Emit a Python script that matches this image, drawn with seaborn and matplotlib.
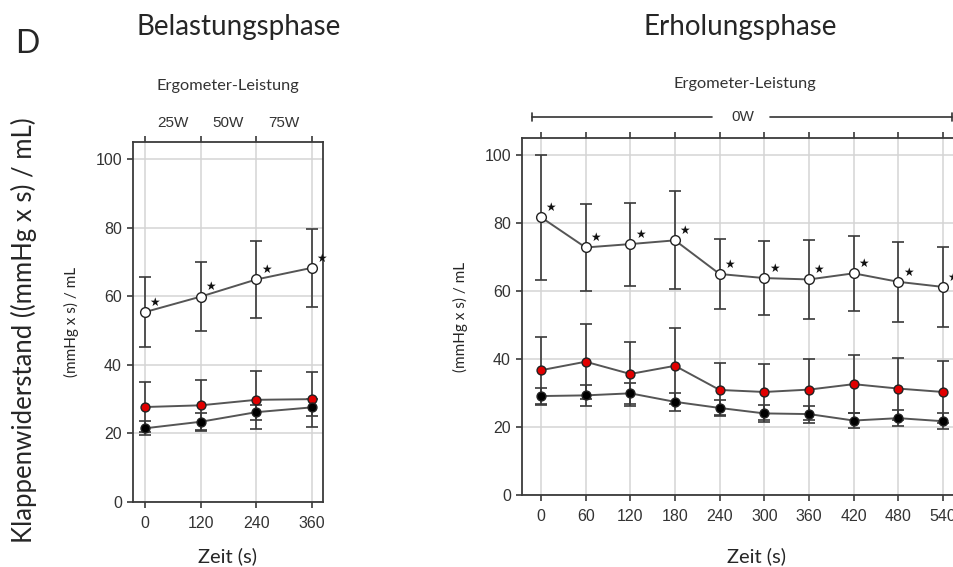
import matplotlib
matplotlib.use("Agg")
import matplotlib.pyplot as plt
import seaborn as sns
import pandas as pd
from matplotlib.transforms import blended_transform_factory

# ---------------- data ----------------
load_time = [0, 120, 240, 360]
load_white = [55.4, 59.9, 64.9, 68.3]
load_white_sd = [10.1, 10.0, 11.1, 11.4]
load_red = [27.7, 28.2, 29.8, 30.0]
load_red_sd = [7.4, 7.4, 8.4, 8.0]
load_black = [21.5, 23.4, 26.2, 27.6]
load_black_sd = [2.0, 2.5, 2.2, 2.4]
load_power_labels = ["25W", "50W", "75W"]
load_power_pos = [60, 180, 300]

rec_time = [0, 60, 120, 180, 240, 300, 360, 420, 480, 540]
rec_white = [81.7, 72.8, 73.8, 74.9, 65.0, 63.8, 63.4, 65.2, 62.7, 61.2]
rec_white_sd = [18.4, 12.8, 12.2, 14.4, 10.3, 10.8, 11.6, 11.1, 11.7, 11.8]
rec_red = [36.7, 39.2, 35.6, 38.0, 30.9, 30.3, 31.0, 32.6, 31.3, 30.3]
rec_red_sd = [9.9, 11.0, 9.3, 11.2, 7.8, 8.3, 8.9, 8.6, 9.1, 9.1]
rec_black = [29.1, 29.3, 29.9, 27.4, 25.6, 24.0, 23.8, 21.9, 22.6, 21.7]
rec_black_sd = [2.5, 3.2, 3.0, 2.6, 2.2, 2.5, 2.5, 2.1, 2.4, 2.3]
rec_power_label = "0W"

yticks = [0, 20, 40, 60, 80, 100]

# ---------------- style ----------------
sns.set_theme(style="ticks")
plt.rcParams["font.family"] = ["Liberation Sans", "DejaVu Sans"]
TITLE_FONT = ["Lato", "DejaVu Sans"]
LINE = "#555555"
FRAME = "#3a3a3a"
GRID = "#d4d4d4"

W, H = 954, 567
fig = plt.figure(figsize=(W / 100, H / 100), dpi=100)


def px_ax(left, top, right, bottom):
    return fig.add_axes([left / W, 1 - bottom / H, (right - left) / W, (bottom - top) / H])


def draw_series(ax, t, y, sd, face, size):
    df = pd.DataFrame({"t": t, "y": y})
    ax.errorbar(t, y, yerr=sd, fmt="none", ecolor=FRAME, elinewidth=1.2,
                capsize=4, capthick=1.2, zorder=2)
    sns.lineplot(data=df, x="t", y="y", ax=ax, color=LINE, lw=1.4,
                 marker="o", markersize=size, markerfacecolor=face,
                 markeredgecolor="#222222", markeredgewidth=1.0, zorder=3)


def style_axes(ax, xt, xlim):
    ax.set_xlim(*xlim)
    ax.set_ylim(0, 105)
    ax.set_xticks(xt)
    ax.set_yticks(yticks)
    ax.grid(True, color=GRID, lw=1.1, zorder=0)
    ax.set_axisbelow(True)
    for s in ax.spines.values():
        s.set_color(FRAME)
        s.set_linewidth(1.3)
        s.set_visible(True)
    ax.tick_params(axis="both", direction="out", length=4, width=1.2, color=FRAME,
                   labelsize=11.5, labelcolor="#333333")
    ax.tick_params(axis="x", top=True, labeltop=False, pad=6)
    ax.tick_params(axis="y", pad=4)
    ax.set_xlabel("")
    ax.set_ylabel("(mmHg x s) / mL", fontsize=11, family=TITLE_FONT, labelpad=12)


def stars(ax, t, y):
    for xi, yi in zip(t, y):
        ax.annotate("★", xy=(xi, yi), xytext=(7, 7), textcoords="offset points",
                    ha="center", va="center", fontsize=8.5, color="#111111",
                    family=["DejaVu Sans"], annotation_clip=False, zorder=5)


# ---------------- left panel ----------------
ax1 = px_ax(133, 142, 323, 502)
draw_series(ax1, load_time, load_red, load_red_sd, "#e10000", 6.4)
draw_series(ax1, load_time, load_black, load_black_sd, "#000000", 6.4)
draw_series(ax1, load_time, load_white, load_white_sd, "#ffffff", 7.0)
stars(ax1, load_time, load_white)
style_axes(ax1, load_time, (-26, 384))
tr1 = blended_transform_factory(ax1.transData, ax1.transAxes)
for lab, pos in zip(load_power_labels, load_power_pos):
    ax1.text(pos, 1 + 19 / 360, lab, transform=tr1, ha="center", va="center",
             fontsize=11, color="#333333")

# ---------------- right panel ----------------
ax2 = px_ax(522, 138, 961.6, 495)
draw_series(ax2, rec_time, rec_red, rec_red_sd, "#e10000", 6.4)
draw_series(ax2, rec_time, rec_black, rec_black_sd, "#000000", 6.4)
draw_series(ax2, rec_time, rec_white, rec_white_sd, "#ffffff", 7.0)
stars(ax2, rec_time, rec_white)
style_axes(ax2, rec_time, (-25.5, 565))
ax2.spines["right"].set_visible(False)
tr2 = blended_transform_factory(ax2.transData, ax2.transAxes)
ybr = (495 - 117) / 357
ax2.plot([-12, 230], [ybr, ybr], transform=tr2, color="#333333", lw=1.2, clip_on=False)
ax2.plot([307, 552], [ybr, ybr], transform=tr2, color="#333333", lw=1.2, clip_on=False)
for xe in (-12, 552):
    ax2.plot([xe, xe], [ybr - 0.012, ybr + 0.012], transform=tr2, color="#333333",
             lw=1.2, clip_on=False)
ax2.text(271, ybr, rec_power_label, transform=tr2, ha="center", va="center",
         fontsize=11, color="#333333")

# ---------------- figure text ----------------
fig.text(27 / W, 1 - 53 / H, "D", fontsize=23, family=TITLE_FONT, ha="center", va="baseline")
fig.text(239 / W, 1 - 35 / H, "Belastungsphase", fontsize=20, family=TITLE_FONT,
         ha="center", va="baseline")
fig.text(740 / W, 1 - 35 / H, "Erholungsphase", fontsize=20, family=TITLE_FONT,
         ha="center", va="baseline")
fig.text(228 / W, 1 - 86 / H, "Ergometer-Leistung", fontsize=11.8, family=TITLE_FONT,
         ha="center", va="center", color="#333333")
fig.text(745 / W, 1 - 84 / H, "Ergometer-Leistung", fontsize=11.8, family=TITLE_FONT,
         ha="center", va="center", color="#333333")
fig.text(228 / W, 1 - 562 / H, "Zeit (s)", fontsize=14.5, family=TITLE_FONT,
         ha="center", va="baseline")
fig.text(757 / W, 1 - 562 / H, "Zeit (s)", fontsize=14.5, family=TITLE_FONT,
         ha="center", va="baseline")
fig.text(24 / W, 1 - 330 / H, "Klappenwiderstand ((mmHg x s) / mL)", fontsize=18.5,
         family=TITLE_FONT, rotation=90, ha="center", va="center")

fig.savefig("out.png", dpi=100)
